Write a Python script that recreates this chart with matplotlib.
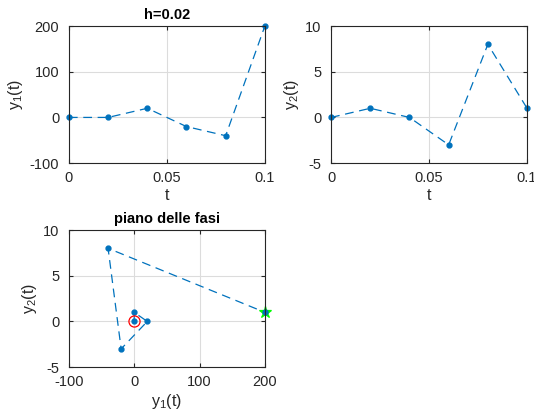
import numpy as np
import matplotlib
matplotlib.use('Agg')
import matplotlib.pyplot as plt

# Data
t = [0, 0.02, 0.04, 0.06, 0.08, 0.1]
y1 = [0, 0, 20, -20, -40, 200]
y2 = [0, 1, 0, -3, 8, 1]

blue = '#0072BD'
txt = '#262626'

plt.rcParams['font.family'] = 'Liberation Sans'
plt.rcParams['mathtext.fontset'] = 'custom'
plt.rcParams['mathtext.rm'] = 'Liberation Sans'
plt.rcParams['mathtext.it'] = 'Liberation Sans'
plt.rcParams['font.size'] = 10
plt.rcParams['axes.unicode_minus'] = False


def style(ax, xlim, ylim, xticks, yticks, xticklabels=None):
    ax.set_xlim(xlim)
    ax.set_ylim(ylim)
    ax.set_xticks(xticks)
    ax.set_yticks(yticks)
    if xticklabels is not None:
        ax.set_xticklabels(xticklabels)
    ax.grid(True, color='#dcdcdc', linewidth=0.8)
    ax.set_axisbelow(True)
    ax.tick_params(direction='in', top=True, right=True, colors=txt,
                   labelcolor=txt, length=3, labelsize=10.5)
    ax.tick_params(axis='x', pad=6)
    ax.tick_params(axis='y', pad=7)
    for s in ax.spines.values():
        s.set_color(txt)
        s.set_linewidth(0.8)


def draw(ax, x, y):
    ax.plot(x, y, color=blue, lw=0.9, ls=(0, (7, 4.5)), marker='.',
            markersize=7, clip_on=False)


fig = plt.figure(figsize=(5.34, 4.13), dpi=100)

ax1 = fig.add_axes([0.129, 0.605, 0.367, 0.332])
draw(ax1, t, y1)
style(ax1, (0, 0.1), (-100, 200), [0, 0.05, 0.1], [-100, 0, 100, 200],
      ['0', '0.05', '0.1'])
ax1.set_xlabel('t', color=txt, labelpad=2, fontsize=11.5)
ax1.set_ylabel(r'y$_1$(t)', color=txt, labelpad=3, fontsize=11.5)
ax1.set_title('h=0.02', fontweight='bold', fontsize=10.5, color='black', pad=5)

ax2 = fig.add_axes([0.620, 0.605, 0.367, 0.332])
draw(ax2, t, y2)
style(ax2, (0, 0.1), (-5, 10), [0, 0.05, 0.1], [-5, 0, 5, 10],
      ['0', '0.05', '0.1'])
ax2.set_xlabel('t', color=txt, labelpad=2, fontsize=11.5)
ax2.set_ylabel(r'y$_2$(t)', color=txt, labelpad=3, fontsize=11.5)

ax3 = fig.add_axes([0.129, 0.111, 0.367, 0.332])
draw(ax3, y1, y2)
ax3.plot(y1[0], y2[0], 'o', mfc='none', mec='red', markersize=8, mew=0.9)
ax3.plot(y1[-1], y2[-1], '*', color='#00ff00', markersize=9, mew=0.9,
         clip_on=False)
ax3.plot(y1[-1], y2[-1], '.', color=blue, markersize=7, clip_on=False)
style(ax3, (-100, 200), (-5, 10), [-100, 0, 100, 200], [-5, 0, 5, 10])
ax3.set_xlabel(r'y$_1$(t)', color=txt, labelpad=2, fontsize=11.5)
ax3.set_ylabel(r'y$_2$(t)', color=txt, labelpad=3, fontsize=11.5)
ax3.set_title('piano delle fasi', fontweight='bold', fontsize=10.5,
              color='black', pad=5)

fig.savefig('out.png', dpi=100)
